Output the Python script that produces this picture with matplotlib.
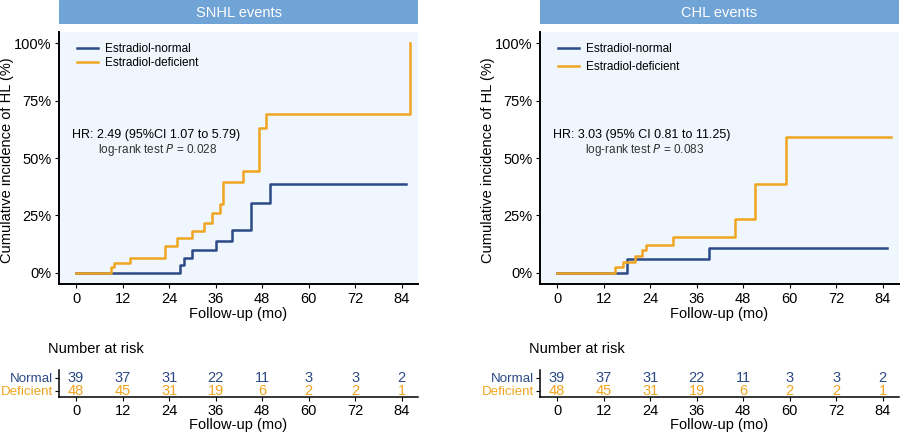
import matplotlib.pyplot as plt
from matplotlib.patches import Rectangle

plt.rcParams['font.family'] = ['Liberation Sans', 'DejaVu Sans']

BLUE = '#2C4A86'
ORANGE = '#EFA521'
STRIP = '#70A3D6'
PANEL = '#EFF6FE'

# SNHL step data (months, cumulative incidence %)
snhl_norm_t = [0, 26.9, 27.9, 29.9, 36.0, 40.1, 45.0, 50.0, 85.0]
snhl_norm_y = [0, 3.3, 6.5, 9.9, 13.9, 18.6, 30.4, 38.8, 38.8]
snhl_def_t = [0, 8.9, 9.9, 13.9, 23.0, 26.0, 30.0, 32.9, 35.1, 37.0, 37.9, 43.0, 47.1, 49.0, 86.2, 86.2]
snhl_def_y = [0, 2.3, 4.3, 6.5, 11.6, 14.9, 18.1, 21.7, 25.8, 30.0, 39.4, 44.3, 63.0, 69.1, 69.1, 100]

# CHL step data
chl_norm_t = [0, 18.0, 39.1, 85.1]
chl_norm_y = [0, 5.9, 10.6, 10.6]
chl_def_t = [0, 15.0, 17.0, 20.0, 22.0, 23.0, 29.9, 46.0, 51.0, 59.1, 86.1]
chl_def_y = [0, 2.6, 4.8, 7.2, 9.9, 12.0, 15.4, 23.2, 38.6, 59.0, 59.0]

ticks = [0, 12, 24, 36, 48, 60, 72, 84]
risk_normal = [39, 37, 31, 22, 11, 3, 3, 2]
risk_deficient = [48, 45, 31, 19, 6, 2, 2, 1]

W, H = 900, 434
fig = plt.figure(figsize=(9, 4.34), dpi=100)


def box(x0, y0, x1, y1):
    return [x0 / W, 1 - y1 / H, (x1 - x0) / W, (y1 - y0) / H]


def km_panel(x0, x1, title, norm_t, norm_y, def_t, def_y, hr, pval, legsp, pval_x):
    ax = fig.add_axes(box(x0, 32, x1, 284))
    ax.set_facecolor(PANEL)
    ax.step(norm_t, [v / 100 for v in norm_y], where='post', color=BLUE, lw=1.8, label='Estradiol-normal')
    ax.step(def_t, [v / 100 for v in def_y], where='post', color=ORANGE, lw=1.8, label='Estradiol-deficient')
    ax.set_xlim(-4.4, 88.2)
    ax.set_ylim(-0.05, 1.05)
    ax.set_xticks(ticks)
    ax.set_yticks([0, 0.25, 0.5, 0.75, 1.0])
    ax.set_yticklabels(['0%', '25%', '50%', '75%', '100%'])
    ax.tick_params(labelsize=10.5, colors='black', length=3, pad=2.5)
    for s in ['top', 'right']:
        ax.spines[s].set_visible(False)
    for s in ['left', 'bottom']:
        ax.spines[s].set_linewidth(1.4)
    ax.set_xlabel('Follow-up (mo)', fontsize=10.5, labelpad=1)
    ax.set_ylabel('Cumulative incidence of HL (%)', fontsize=10.5)
    ax.yaxis.set_label_coords(-0.124, 0.49)
    ax.legend(loc='upper left', bbox_to_anchor=(0.05, 0.955), frameon=False,
              fontsize=8.5, handlelength=1.8, handletextpad=0.6,
              labelspacing=legsp, borderpad=0, borderaxespad=0)
    ax.text(0.036, 0.593, hr, transform=ax.transAxes, fontsize=9, ha='left', va='center')
    ax.text(pval_x, 0.53, pval, transform=ax.transAxes, fontsize=8.5, ha='left',
            va='center', color='#333333')
    # strip
    sax = fig.add_axes(box(x0, 0, x1, 24))
    sax.set_xlim(0, 1)
    sax.set_ylim(0, 1)
    sax.add_patch(Rectangle((0, 0), 1, 1, color=STRIP))
    sax.axis('off')
    sax.text(0.5, 0.45, title, color='white', fontsize=10.5, ha='center', va='center')
    return ax


def risk_table(x0, x1):
    ax = fig.add_axes(box(x0, 370, x1, 397))
    ax.set_xlim(-4.4, 88.2)
    ax.set_ylim(-0.5, 1.6)
    for t, n, d in zip(ticks, risk_normal, risk_deficient):
        ax.text(t, 1, str(n), color=BLUE, fontsize=10.5, ha='center', va='center')
        ax.text(t, 0, str(d), color=ORANGE, fontsize=10.5, ha='center', va='center')
    ax.set_xticks(ticks)
    ax.set_yticks([1, 0])
    ax.set_yticklabels(['Normal', 'Deficient'])
    for lab, c in zip(ax.get_yticklabels(), [BLUE, ORANGE]):
        lab.set_color(c)
        lab.set_fontsize(9.6)
    ax.tick_params(axis='x', labelsize=10.5, length=3, pad=2)
    ax.tick_params(axis='y', length=3, pad=1)
    for s in ['top', 'right']:
        ax.spines[s].set_visible(False)
    for s in ['left', 'bottom']:
        ax.spines[s].set_linewidth(1.1)
    ax.set_xlabel('Follow-up (mo)', fontsize=10.5, labelpad=0)
    fig.text((x0 - 11) / W, 1 - 349 / H, 'Number at risk', fontsize=10.5, va='center')


km_panel(59, 418, 'SNHL events', snhl_norm_t, snhl_norm_y, snhl_def_t, snhl_def_y,
         'HR: 2.49 (95%CI 1.07 to 5.79)', 'log-rank test $P$ = 0.028', 0.15, 0.109)
km_panel(540, 899, 'CHL events', chl_norm_t, chl_norm_y, chl_def_t, chl_def_y,
         'HR: 3.03 (95% CI 0.81 to 11.25)', 'log-rank test $P$ = 0.083', 0.45, 0.125)
risk_table(59, 418)
risk_table(540, 899)

fig.savefig('out.png', dpi=100)
